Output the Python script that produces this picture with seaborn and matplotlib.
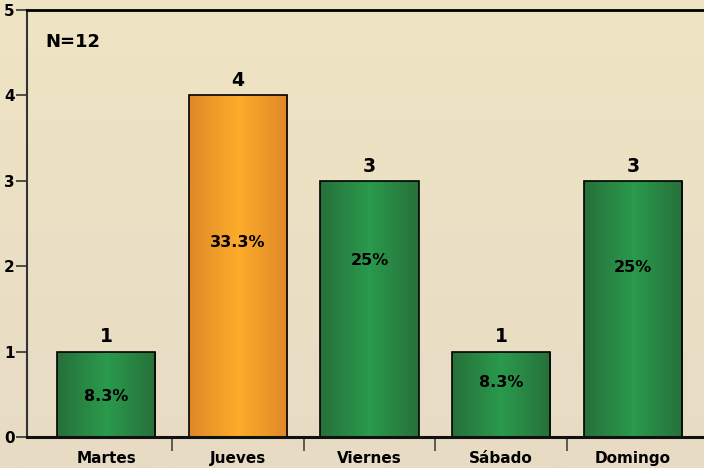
import matplotlib
matplotlib.use("Agg")
import matplotlib.pyplot as plt
import numpy as np
import pandas as pd
import seaborn as sns
from matplotlib.colors import LinearSegmentedColormap

# data
dias = ["Martes", "Jueves", "Viernes", "Sábado", "Domingo"]
casos = [1, 4, 3, 1, 3]
porcentajes = ["8.3%", "33.3%", "25%", "8.3%", "25%"]
total = 12

# layout only: height of the percentage label as a fraction of the bar
pct_frac = [0.48, 0.57, 0.69, 0.64, 0.66]
bar_kind = ["green", "orange", "green", "green", "green"]

sns.set_theme(style="white")
plt.rcParams["font.family"] = ["DejaVu Sans"]
plt.rcParams["font.weight"] = "bold"
plt.rcParams["text.color"] = "black"
plt.rcParams["xtick.color"] = "black"
plt.rcParams["ytick.color"] = "black"

df = pd.DataFrame({"dia": dias, "casos": casos})

fig = plt.figure(figsize=(7.04, 4.68), dpi=100)

# background gradient for the whole figure
bg = fig.add_axes([0, 0, 1, 1], zorder=-10)
bg_cmap = LinearSegmentedColormap.from_list("bg", ["#E7DBC5", "#EFE5C3"])
bg.imshow(np.linspace(0, 1, 256).reshape(-1, 1), aspect="auto", cmap=bg_cmap,
          origin="lower", extent=[0, 1, 0, 1])
bg.axis("off")

ax = fig.add_axes([27 / 704, 31 / 468, 677 / 704, 427 / 468])
ax.patch.set_alpha(0)

sns.barplot(data=df, x="dia", y="casos", ax=ax, width=0.745,
            color="#2A8A45", edgecolor="black", linewidth=1.2, zorder=3)

cmaps = {
    "green": LinearSegmentedColormap.from_list("g", ["#27703A", "#2A9A4C", "#27703A"]),
    "orange": LinearSegmentedColormap.from_list("o", ["#DF8827", "#FDAC2B", "#DF8827"]),
}
grad = np.linspace(0, 1, 256).reshape(1, -1)
for patch, kind in zip(ax.patches, bar_kind):
    x0, y0 = patch.get_x(), patch.get_y()
    w, h = patch.get_width(), patch.get_height()
    im = ax.imshow(grad, aspect="auto", cmap=cmaps[kind],
                   extent=[x0, x0 + w, y0, y0 + h], zorder=3)
    im.set_clip_path(patch)
    patch.set_facecolor("none")
    patch.set_zorder(4)

for i, (v, p, f) in enumerate(zip(casos, porcentajes, pct_frac)):
    ax.text(i, v + 0.06, str(v), ha="center", va="bottom", fontsize=13.5,
            fontweight="bold", color="black", zorder=5)
    ax.text(i, v * f, p, ha="center", va="center", fontsize=11.5,
            fontweight="bold", color="black", zorder=5)

ax.text(0.027, 0.925, f"N={total}", transform=ax.transAxes, fontsize=13,
        fontweight="bold", ha="left", va="center", color="black")

ax.set_xlim(-0.6, 4.54)
ax.set_ylim(0, 5)
ax.set_yticks(range(0, 6))
ax.set_xlabel("")
ax.set_ylabel("")

ax.set_xticks(np.arange(0.5, 4.0, 1.0), minor=True)
ax.tick_params(axis="x", which="major", length=0, pad=10, labelsize=11,
               labelcolor="black")
ax.tick_params(axis="x", which="minor", length=10, width=1.2, color="#444444",
               direction="out", bottom=True)
ax.tick_params(axis="y", which="major", length=8, width=1.2, color="#333333",
               direction="out", left=True, labelsize=11, pad=1,
               labelcolor="black")
for lab in ax.get_xticklabels() + ax.get_yticklabels():
    lab.set_fontweight("bold")

for side in ["top", "bottom", "left", "right"]:
    ax.spines[side].set_visible(True)
ax.spines["right"].set_visible(False)
ax.spines["top"].set_color("black")
ax.spines["top"].set_linewidth(2)
ax.spines["bottom"].set_color("#111111")
ax.spines["bottom"].set_linewidth(2.2)
ax.spines["bottom"].set_zorder(6)
ax.spines["left"].set_color("#333333")
ax.spines["left"].set_linewidth(1.5)

fig.savefig("out.png", dpi=100)
